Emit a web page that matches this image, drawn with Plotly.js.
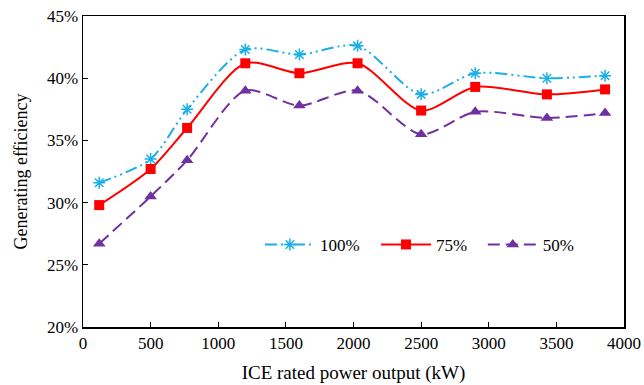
<!DOCTYPE html>
<html>
<head>
<meta charset="utf-8">
<script src="https://cdn.plot.ly/plotly-3.0.1.min.js"></script>
<style>html,body{margin:0;padding:0;background:#fff;}#chart{width:644px;height:385px;}</style>
</head>
<body>
<div id="chart"></div>
<script>
const power = [120, 500, 770, 1200, 1600, 2030, 2500, 2900, 3430, 3860];
const eff100 = [31.6, 33.5, 37.5, 42.3, 41.9, 42.6, 38.7, 40.4, 40.0, 40.2];
const eff75 = [29.8, 32.7, 36.0, 41.2, 40.4, 41.2, 37.4, 39.3, 38.7, 39.1];
const eff50 = [26.7, 30.5, 33.4, 39.0, 37.8, 39.0, 35.5, 37.3, 36.8, 37.2];
const names = ['100%', '75%', '50%'];

const traces = [
  {x: power, y: eff100, name: names[0], legend: 'legend', type: 'scatter', mode: 'lines+markers',
   line: {color: '#1AAFE6', width: 2, shape: 'spline', smoothing: 0.8, dash: '12px,4px,2px,4px,2px,4px'},
   marker: {symbol: 'asterisk-open', size: 10, color: '#1AAFE6', line: {color: '#1AAFE6', width: 1.5}}},
  {x: power, y: eff75, name: names[1], legend: 'legend2', type: 'scatter', mode: 'lines+markers',
   line: {color: '#FF0000', width: 2, shape: 'spline', smoothing: 0.8},
   marker: {symbol: 'square', size: 10, color: '#FF0000'}},
  {x: power, y: eff50, name: names[2], legend: 'legend3', type: 'scatter', mode: 'lines+markers',
   line: {color: '#7030A0', width: 2, shape: 'spline', smoothing: 0.8, dash: '12px,6px'},
   marker: {symbol: 'triangle-up', size: 11, color: '#7030A0'}}
];

const fam = 'Liberation Serif, Times New Roman, serif';
function leg(x) {
  return {orientation: 'h', x: x, y: 0.264, xanchor: 'left', yanchor: 'middle',
          font: {family: fam, size: 17, color: '#000'}, itemwidth: 50, bgcolor: 'rgba(0,0,0,0)'};
}
const layout = {
  width: 644, height: 385,
  margin: {l: 83, r: 20, t: 16, b: 58},
  paper_bgcolor: '#fff', plot_bgcolor: '#fff',
  font: {family: fam, size: 16, color: '#000'},
  showlegend: true,
  legend: leg(0.327),
  legend2: leg(0.5416),
  legend3: leg(0.739),
  xaxis: {range: [0, 4000], dtick: 500, tick0: 0, showgrid: false, zeroline: false,
          showline: true, linecolor: '#000', linewidth: 1.5, mirror: true,
          ticks: 'inside', ticklen: 5, tickcolor: '#000',
          tickfont: {family: fam, size: 17, color: '#000'},
          title: {text: 'ICE rated power output (kW)', font: {family: fam, size: 19, color: '#000'}, standoff: 14}},
  yaxis: {range: [20, 45], dtick: 5, tick0: 20, ticksuffix: '%', showgrid: false, zeroline: false,
          showline: true, linecolor: '#000', linewidth: 1.5, mirror: true,
          ticks: 'inside', ticklen: 5, tickcolor: '#000',
          tickfont: {family: fam, size: 17, color: '#000'},
          title: {text: 'Generating efficiency', font: {family: fam, size: 18, color: '#000'}, standoff: 14}}
};
Plotly.newPlot('chart', traces, layout, {displayModeBar: false, staticPlot: true});
</script>
</body>
</html>
